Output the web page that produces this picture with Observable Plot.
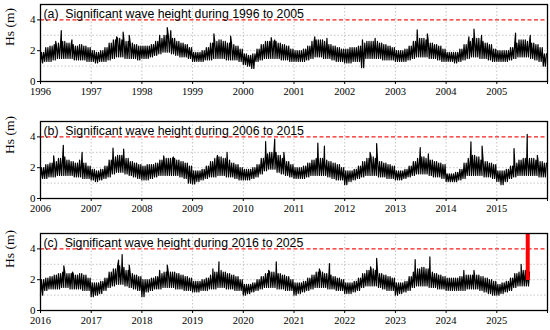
<!DOCTYPE html>
<html><head><meta charset="utf-8">
<script src="https://cdn.jsdelivr.net/npm/d3@7"></script>
<script src="https://cdn.jsdelivr.net/npm/@observablehq/plot@0.6"></script>
<style>
body{margin:0;background:#fff}
#wrap{position:relative;width:550px;height:330px;overflow:hidden;background:#fff}
.panel{position:absolute;left:0}
.ylab{position:absolute;font-family:"Liberation Serif","Times New Roman",serif;font-size:13.5px;line-height:1;white-space:nowrap;transform:translate(-50%,-50%) rotate(-90deg)}
</style></head><body><div id="wrap"></div>
<script>
const titles = ["(a)\u00a0 Significant wave height during 1996 to 2005",
                "(b)\u00a0 Significant wave height during 2006 to 2015",
                "(c)\u00a0 Significant wave height during 2016 to 2025"];
const startYears = [1996, 2006, 2016];
const yTicks = [0, 2, 4];
const gridY = [1, 2, 3];
const threshold = 4;

// monthly lower / upper envelope of the record (m)
const loA = [1.2,1.3,1.3,1.4,1.5,1.5,1.5,1.5,1.4,1.4,1.4,1.3,
 1.3,1.2,1.3,1.3,1.4,1.5,1.6,1.6,1.5,1.5,1.5,1.4,
 1.5,1.5,1.6,1.7,1.8,1.9,1.9,1.8,1.7,1.6,1.6,1.5,
 1.3,1.3,1.3,1.4,1.4,1.5,1.5,1.5,1.4,1.4,1.4,1.3,
 1.1,1.0,0.85,1.3,1.4,1.5,1.5,1.5,1.5,1.4,1.4,1.3,
 1.3,1.3,1.3,1.4,1.5,1.6,1.6,1.5,1.5,1.4,1.3,1.3,
 1.2,1.2,1.3,1.3,0.9,1.5,1.5,1.5,1.5,1.4,1.4,1.4,
 1.3,1.3,1.3,1.4,1.5,1.6,1.6,1.6,1.5,1.5,1.4,1.3,
 1.3,1.3,1.2,1.3,1.4,1.5,1.6,1.6,1.5,1.5,1.4,1.3,
 1.3,1.3,1.3,1.4,1.5,1.6,1.6,1.6,1.5,1.4,1.3,1.0];
const hiA = [1.9,2.2,2.3,2.4,2.5,2.6,2.5,2.4,2.3,2.4,2.3,2.2,
 2.0,1.9,2.0,2.2,2.5,2.7,2.8,2.7,2.6,2.5,2.4,2.3,
 2.3,2.3,2.4,2.6,2.8,3.0,3.0,2.8,2.6,2.5,2.4,2.2,
 1.9,1.9,2.0,2.2,2.5,2.6,2.7,2.6,2.5,2.4,2.3,2.1,
 1.8,1.7,1.8,2.1,2.4,2.6,2.6,2.6,2.5,2.4,2.3,2.1,
 2.0,2.0,2.1,2.3,2.6,2.7,2.7,2.6,2.4,2.3,2.2,2.1,
 2.1,2.2,2.2,2.3,2.5,2.6,2.6,2.6,2.5,2.4,2.3,2.2,
 2.0,2.0,2.1,2.3,2.6,2.8,2.8,2.7,2.5,2.4,2.3,2.1,
 1.9,1.9,1.9,2.1,2.4,2.6,2.8,2.8,2.6,2.5,2.4,2.1,
 2.0,2.0,2.0,2.2,2.5,2.7,2.7,2.6,2.5,2.4,2.2,1.8];
const peaksA = [[1996.30,2.6],[1996.41,3.3],[1996.62,2.7],[1997.50,2.9],[1997.63,3.2],[1997.75,3.0],
 [1998.35,3.0],[1998.50,3.5],[1998.57,3.3],[1999.42,3.1],[1999.75,2.95],[2000.55,2.85],[2000.62,2.7],
 [2001.41,2.9],[2001.65,2.8],[2002.35,2.7],[2002.60,2.8],[2003.43,3.35],[2003.63,3.1],
 [2004.45,2.9],[2004.55,3.4],[2004.70,3.0],[2005.37,3.15],[2005.66,3.0]];

const loB = [1.3,1.3,1.4,1.4,1.5,1.5,1.5,1.5,1.4,1.4,1.3,1.3,
 1.2,1.1,1.2,1.3,1.4,1.6,1.7,1.7,1.6,1.5,1.4,1.3,
 1.2,1.2,1.3,1.4,1.5,1.5,1.5,1.5,1.5,1.4,1.3,1.0,
 0.95,1.1,1.2,1.3,1.4,1.4,1.5,1.5,1.4,1.4,1.3,1.2,
 1.2,1.2,1.3,1.4,1.6,1.8,1.9,1.9,1.7,1.6,1.5,1.4,
 1.3,1.3,1.3,1.4,1.5,1.5,1.5,1.5,1.4,1.3,1.2,1.2,
 0.9,1.1,1.2,1.3,1.4,1.5,1.5,1.5,1.4,1.4,1.3,1.3,
 1.2,1.2,1.3,1.4,1.5,1.6,1.6,1.6,1.5,1.4,1.4,1.3,
 1.1,1.1,1.1,1.2,1.3,1.5,1.5,1.5,1.5,1.4,1.4,1.3,
 1.1,0.9,1.1,1.3,1.4,1.5,1.5,1.5,1.5,1.5,1.4,1.4];
const hiB = [2.0,2.2,2.3,2.4,2.6,2.7,2.5,2.4,2.3,2.5,2.3,2.1,
 1.9,1.8,1.9,2.1,2.5,2.7,2.8,2.8,2.6,2.4,2.3,2.2,
 2.1,2.2,2.2,2.3,2.5,2.6,2.6,2.6,2.5,2.4,2.3,2.1,
 1.8,1.8,1.9,2.1,2.4,2.6,2.7,2.6,2.5,2.3,2.2,2.0,
 1.9,1.9,2.0,2.2,2.6,2.9,3.0,3.0,2.8,2.6,2.4,2.2,
 2.0,2.0,2.1,2.3,2.5,2.6,2.6,2.5,2.4,2.3,2.2,2.0,
 1.8,1.8,1.9,2.1,2.4,2.6,2.7,2.6,2.4,2.3,2.2,2.1,
 1.8,1.8,1.9,2.1,2.4,2.6,2.7,2.6,2.5,2.4,2.3,2.2,
 1.6,1.6,1.7,1.9,2.3,2.6,2.8,2.7,2.5,2.4,2.3,2.2,
 1.8,1.8,1.9,2.1,2.3,2.5,2.6,2.6,2.6,2.5,2.4,2.3];
const peaksB = [[2006.26,2.77],[2006.45,3.45],[2006.82,3.0],[2007.43,3.27],[2007.64,3.2],[2008.43,2.77],
 [2008.62,2.7],[2009.49,2.8],[2009.68,3.0],[2010.44,3.7],[2010.62,3.85],[2010.80,3.0],[2011.47,3.6],
 [2011.60,3.4],[2012.50,3.0],[2012.63,3.57],[2013.49,3.3],[2013.65,2.9],[2014.49,3.68],[2014.71,3.4],
 [2015.34,3.24],[2015.60,4.17],[2015.80,2.8]];

const loC = [1.0,1.3,1.4,1.4,1.4,1.5,1.5,1.4,1.4,1.4,1.3,1.3,
 0.9,1.0,1.1,1.3,1.5,1.6,1.7,1.7,1.6,1.5,1.4,1.3,
 0.9,1.2,1.3,1.4,1.4,1.5,1.5,1.5,1.4,1.4,1.3,1.3,
 1.2,1.2,1.3,1.3,1.4,1.4,1.5,1.5,1.4,1.4,1.3,1.3,
 1.0,1.1,1.2,1.3,1.4,1.5,1.5,1.5,1.4,1.4,1.3,1.3,
 1.0,1.1,1.2,1.3,1.4,1.5,1.5,1.5,1.4,1.4,1.3,1.3,
 1.1,1.1,1.2,1.3,1.5,1.6,1.6,1.6,1.5,1.4,1.3,1.3,
 1.0,1.1,1.2,1.3,1.5,1.6,1.6,1.6,1.5,1.5,1.4,1.4,
 1.3,1.3,1.3,1.3,1.3,1.4,1.4,1.4,1.3,1.2,1.1,1.0,
 1.0,1.1,1.2,1.3,1.5,1.6,1.6,1.6];
const hiC = [2.0,2.1,2.2,2.3,2.4,2.5,2.4,2.4,2.3,2.4,2.3,2.1,
 1.8,1.8,1.9,2.1,2.5,2.7,2.9,2.8,2.6,2.4,2.3,2.2,
 2.0,2.0,2.1,2.2,2.4,2.5,2.5,2.5,2.4,2.3,2.2,2.1,
 1.9,1.9,2.0,2.1,2.3,2.5,2.6,2.5,2.4,2.3,2.2,2.0,
 1.7,1.7,1.8,2.0,2.2,2.4,2.5,2.5,2.4,2.3,2.2,2.0,
 1.8,1.8,1.9,2.1,2.3,2.5,2.5,2.4,2.3,2.2,2.1,2.0,
 1.8,1.8,1.9,2.1,2.4,2.6,2.7,2.6,2.4,2.3,2.2,2.1,
 1.8,1.8,1.9,2.2,2.5,2.7,2.8,2.7,2.5,2.4,2.3,2.2,
 2.1,2.1,2.1,2.2,2.3,2.3,2.3,2.3,2.2,2.1,2.0,1.9,
 1.7,1.8,1.9,2.1,2.4,2.5,2.6,2.5];
const peaksC = [[2016.46,2.9],[2016.63,2.5],[2017.54,3.27],[2017.61,3.63],[2017.75,2.95],[2018.35,2.6],
 [2018.50,2.95],[2019.40,2.7],[2019.52,3.16],[2020.50,2.6],[2020.65,3.16],[2021.50,2.7],[2021.70,3.05],
 [2022.51,2.84],[2022.63,3.38],[2023.39,3.3],[2023.68,3.48],[2024.35,2.6],[2024.55,2.6],[2025.48,3.0]];

// red marker in panel (c)
const redBar = [{t: 2025.61, y1: 1.95, y2: 5}];

const los = [loA, loB, loC], his = [hiA, hiB, hiC], peaks = [peaksA, peaksB, peaksC];
const panelTops = [0, 117, 229];
const labelCenters = [27, 18, 19.5];

const serif = '"Liberation Serif","Times New Roman",serif';
const sans = '"Liberation Sans",Arial,sans-serif';
const wrap = document.getElementById("wrap");

for (let i = 0; i < 3; i++) {
  const y0 = startYears[i];
  const pts = [];
  // each month's envelope is drawn as two up-and-down swings (lo → hi → lo → hi)
  los[i].forEach((v, k) => {
    const t = y0 + k / 12;
    pts.push({t, v});
    pts.push({t: t + 1 / 48, v: his[i][k]});
    pts.push({t: t + 2 / 48, v});
    pts.push({t: t + 3 / 48, v: his[i][k]});
  });
  peaks[i].forEach(([t, v]) => pts.push({t, v}));
  pts.sort((a, b) => a.t - b.t);
  const years = d3.range(y0, y0 + 11);
  const marks = [
    Plot.ruleX(years.slice(1, -1), {stroke: "#b5b5b5", strokeDasharray: "1.5,2", strokeWidth: 0.8}),
    Plot.ruleY(gridY, {stroke: "#b5b5b5", strokeDasharray: "1.5,2", strokeWidth: 0.8}),
    Plot.ruleY([threshold], {stroke: "#ff1a1a", strokeDasharray: "4,2.5", strokeWidth: 1.3}),
    Plot.line(pts, {x: "t", y: "v", stroke: "black", strokeWidth: 1.2})
  ];
  if (i === 2) marks.push(Plot.ruleX(redBar, {x: "t", y1: "y1", y2: "y2", stroke: "#ff0000", strokeWidth: 4}));
  marks.push(
    Plot.frame({stroke: "black", strokeWidth: 1.3}),
    Plot.axisX({ticks: years, tickFormat: d => (d < y0 + 10 ? String(d) : ""), tickSize: 3, tickPadding: 3, label: null, fontSize: 10.5}),
    Plot.axisY({ticks: yTicks, tickFormat: d => String(d), tickSize: 3, tickPadding: 2, label: null, fontSize: 11}),
    Plot.text([titles[i]], {text: d => d, frameAnchor: "top-left", dx: 3, dy: 4.5, lineAnchor: "top",
      fontFamily: sans, fontSize: 12.3, fill: "black"})
  );
  const chart = Plot.plot({
    width: 550, height: 102,
    marginLeft: 40, marginRight: 3, marginTop: 4, marginBottom: 21,
    style: {fontFamily: serif, fontSize: "10.5px", background: "transparent", color: "black", overflow: "visible"},
    x: {domain: [y0, y0 + 10]},
    y: {domain: [0, 5]},
    marks
  });
  chart.classList.add("panel");
  chart.style.top = panelTops[i] + "px";
  wrap.appendChild(chart);
  const lab = document.createElement("div");
  lab.className = "ylab";
  lab.textContent = "Hs (m)";
  lab.style.left = "10px";
  lab.style.top = (panelTops[i] + labelCenters[i]) + "px";
  wrap.appendChild(lab);
}
</script></body></html>
